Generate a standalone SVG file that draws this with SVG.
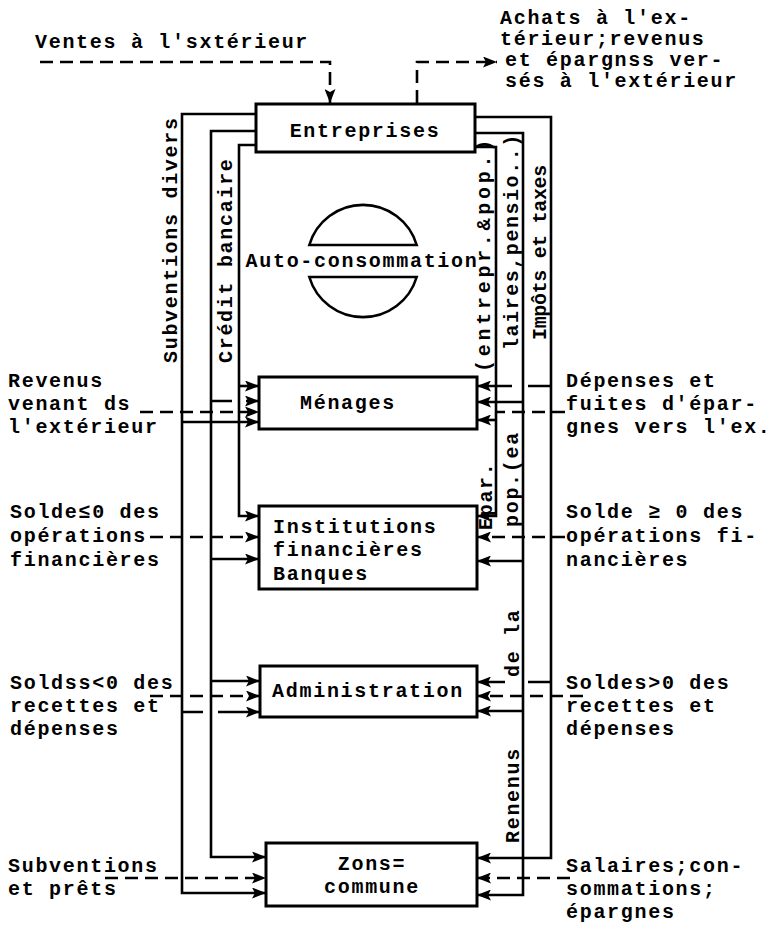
<svg xmlns="http://www.w3.org/2000/svg" width="771" height="925" viewBox="0 0 771 925">
<style>
text{font-family:"Liberation Mono","DejaVu Sans Mono",monospace;font-size:20px;font-weight:bold;letter-spacing:1.7px;fill:#000}
.box{fill:#fff;stroke:#000;stroke-width:3}
.ln{fill:none;stroke:#000;stroke-width:2.6}
.dl{fill:none;stroke:#000;stroke-width:2.6;stroke-dasharray:13 7}
.ah{fill:#000}
</style>
<defs>
<marker id="a" viewBox="0 0 14 11" refX="14" refY="5.5" markerWidth="14" markerHeight="11" markerUnits="userSpaceOnUse" orient="auto"><path d="M0,0 L14,5.5 L0,11 L3,5.5 Z" class="ah"/></marker>
</defs>
<rect width="771" height="925" fill="#fff"/>
<g id="connectors">
<path class="dl" d="M40,62 H330 V103" marker-end="url(#a)"/>
<path class="dl" d="M417,103 V62 H497" marker-end="url(#a)"/>
<path class="ln" d="M256,114 H182 V893 H266" marker-end="url(#a)"/>
<path class="ln" d="M256,131 H211 V857 H266" marker-end="url(#a)"/>
<path class="ln" d="M256,145 H239 V516 H259" marker-end="url(#a)"/>
<path class="ln" d="M239,386 H259" marker-end="url(#a)"/>
<path class="ln" d="M211,401 H232 M246,401 H259" marker-end="url(#a)"/>
<path class="dl" d="M140,412 H259" marker-end="url(#a)"/>
<path class="ln" d="M182,422 H259" marker-end="url(#a)"/>
<path class="dl" d="M150,537 H259" marker-end="url(#a)"/>
<path class="ln" d="M211,559 H259" marker-end="url(#a)"/>
<path class="ln" d="M211,681 H260" marker-end="url(#a)"/>
<path class="dl" d="M150,696 H260" marker-end="url(#a)"/>
<path class="ln" d="M182,712 H203 M218,712 H260" marker-end="url(#a)"/>
<path class="dl" d="M105,878 H266" marker-end="url(#a)"/>
<path class="ln" d="M475,117 H551 V858 H477" marker-end="url(#a)"/>
<path class="ln" d="M475,133 H523 V895 H477" marker-end="url(#a)"/>
<path class="ln" d="M475,147 H496 V516 H477" marker-end="url(#a)"/>
<path class="ln" d="M551,386 H528 M512,386 H477" marker-end="url(#a)"/>
<path class="ln" d="M523,402 H477" marker-end="url(#a)"/>
<path class="dl" d="M565,412 H496"/>
<path class="ln" d="M496,420 H477" marker-end="url(#a)"/>
<path class="dl" d="M565,537 H477" marker-end="url(#a)"/>
<path class="ln" d="M523,561 H477" marker-end="url(#a)"/>
<path class="ln" d="M551,682 H528 M505,682 H477" marker-end="url(#a)"/>
<path class="dl" d="M583,696 H477" marker-end="url(#a)"/>
<path class="ln" d="M523,711 H477" marker-end="url(#a)"/>
<path class="dl" d="M570,878 H477" marker-end="url(#a)"/>
</g>
<g id="entreprises"><rect class="box" x="256" y="104" width="219" height="48"/><text x="365" y="137" text-anchor="middle">Entreprises</text></g>
<g id="auto-consommation">
<path d="M309.3,245 A56,56 0 0 1 416.7,245 Z M309.3,277 A56,56 0 0 0 416.7,277 Z" fill="#fff" stroke="#000" stroke-width="2.6"/>
<text x="362" y="267" text-anchor="middle">Auto-consommation</text></g>
<g id="menages"><rect class="box" x="259" y="377" width="218" height="52"/><text x="300" y="409">Ménages</text></g>
<g id="institutions"><rect class="box" x="259" y="506" width="218" height="83"/><text x="273" y="533">Institutions</text><text x="273" y="556">financières</text><text x="273" y="580">Banques</text></g>
<g id="administration"><rect class="box" x="260" y="666" width="217" height="51"/><text x="368" y="697" text-anchor="middle">Administration</text></g>
<g id="zone-commune"><rect class="box" x="266" y="843" width="211" height="63"/><text x="372" y="870" text-anchor="middle">Zons=</text><text x="372" y="893" text-anchor="middle">commune</text></g>
<g id="labels">
<text x="35" y="48">Ventes à l'sxtérieur</text>
<text x="500" y="24">Achats à l'ex-</text>
<text x="500" y="45">térieur;revenus</text>
<text x="505" y="66">et épargnss ver-</text>
<text x="505" y="87">sés à l'extérieur</text>
<text x="8" y="387">Revenus</text><text x="8" y="410">venant ds</text><text x="8" y="433">l'extérieur</text>
<text x="566" y="387">Dépenses et</text><text x="566" y="410">fuites d'épar-</text><text x="566" y="433">gnes vers l'ex.</text>
<text x="10" y="518">Solde≤0 des</text><text x="10" y="542">opérations</text><text x="10" y="566">financières</text>
<text x="566" y="518">Solde ≥ 0 des</text><text x="566" y="542">opérations fi-</text><text x="566" y="566">nancières</text>
<text x="10" y="689">Soldss&lt;0 des</text><text x="10" y="712">recettes et</text><text x="10" y="735">dépenses</text>
<text x="566" y="689">Soldes&gt;0 des</text><text x="566" y="712">recettes et</text><text x="566" y="735">dépenses</text>
<text x="8" y="872">Subventions</text><text x="8" y="895">et prêts</text>
<text x="566" y="872">Salaires;con-</text><text x="566" y="895">sommations;</text><text x="566" y="918">épargnes</text>
<text transform="translate(177,363) rotate(-90)">Subventions divers</text>
<text transform="translate(232,363) rotate(-90)">Crédit bancaire</text>
<text transform="translate(490,372) rotate(-90)" textLength="234" lengthAdjust="spacing">(entrepr.&amp;pop.)</text>
<text transform="translate(492,530) rotate(-90)">Epar.</text>
<text transform="translate(518,350) rotate(-90)" textLength="217" lengthAdjust="spacing">laires,pensio..)</text>
<text transform="translate(518,527) rotate(-90)">pop.(ea</text>
<text transform="translate(519,677) rotate(-90)">de la</text>
<text transform="translate(519,843) rotate(-90)">Renenus</text>
<text transform="translate(546,340) rotate(-90)" textLength="177" lengthAdjust="spacing">Impôts et taxes</text>
</g>
</svg>
